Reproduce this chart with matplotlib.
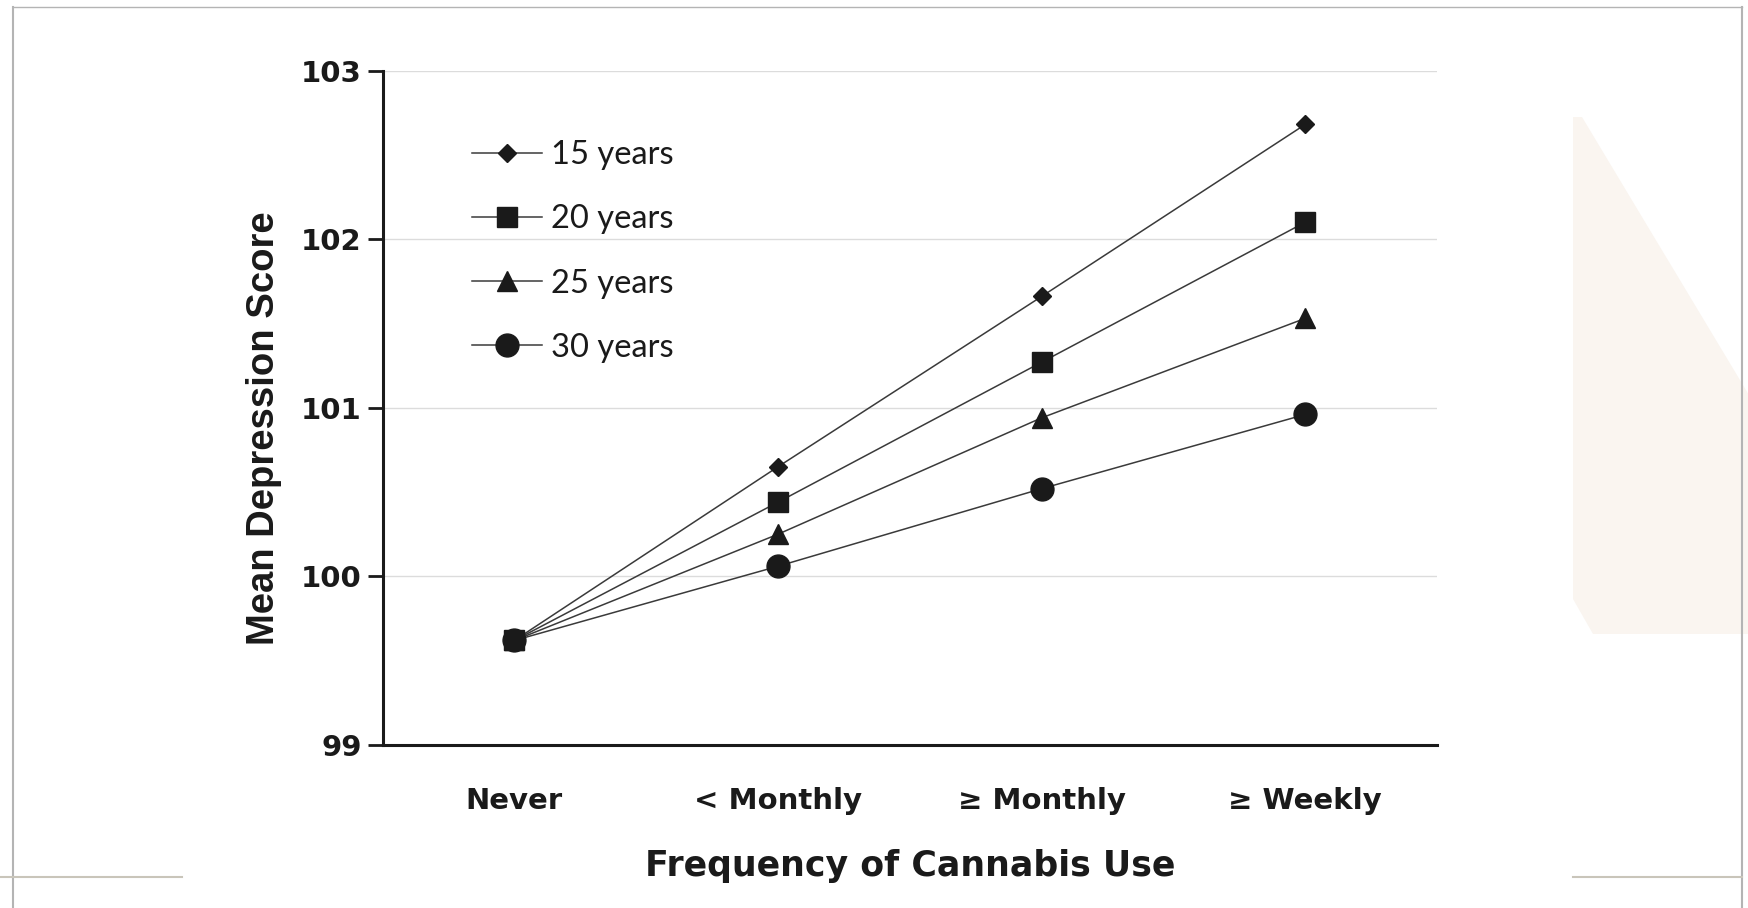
import matplotlib
matplotlib.use("Agg")
import matplotlib.pyplot as plt
from matplotlib.lines import Line2D
from matplotlib.patches import Polygon

# data
categories = ["Never", "< Monthly", "\u2265 Monthly", "\u2265 Weekly"]
ages = ["15 years", "20 years", "25 years", "30 years"]
score_15 = [99.62, 100.65, 101.66, 102.68]
score_20 = [99.62, 100.44, 101.27, 102.10]
score_25 = [99.62, 100.25, 100.94, 101.53]
score_30 = [99.62, 100.06, 100.52, 100.96]
y_ticks = [99, 100, 101, 102, 103]

series = [score_15, score_20, score_25, score_30]
markers = ["D", "s", "^", "o"]
sizes = [9.5, 14, 14.5, 16.5]

bold_font = ["DejaVu Sans"]
tall_font = ["Liberation Sans", "DejaVu Sans"]


def main():
    fig = plt.figure(figsize=(17.49, 9.08), dpi=100)
    fig.patch.set_facecolor("white")

    # faint page decoration on the right and slide frame lines
    fig.add_artist(Polygon([(1573 / 1749, 1 - 117 / 908), (1582 / 1749, 1 - 117 / 908),
                            (1.0, 1 - 395 / 908), (1.0, 1 - 634 / 908),
                            (1593 / 1749, 1 - 634 / 908), (1573 / 1749, 1 - 599 / 908)],
                           closed=True, transform=fig.transFigure,
                           facecolor="#faf5f0", edgecolor="none", zorder=0))
    fig.add_artist(Line2D([13 / 1749, 13 / 1749], [0, 1 - 7 / 908], transform=fig.transFigure,
                          color="#b4b4b4", lw=1.5))
    fig.add_artist(Line2D([1742 / 1749, 1742 / 1749], [0, 1 - 7 / 908], transform=fig.transFigure,
                          color="#b4b4b4", lw=1.5))
    fig.add_artist(Line2D([13 / 1749, 1742 / 1749], [1 - 7 / 908, 1 - 7 / 908],
                          transform=fig.transFigure, color="#b4b4b4", lw=1.0))
    fig.add_artist(Line2D([0, 182 / 1749], [1 - 877 / 908, 1 - 877 / 908],
                          transform=fig.transFigure, color="#c9c5ba", lw=1.5))
    fig.add_artist(Line2D([1573 / 1749, 1742 / 1749], [1 - 877 / 908, 1 - 877 / 908],
                          transform=fig.transFigure, color="#c9c5ba", lw=1.5))

    ax = fig.add_axes([382.6 / 1749, 163 / 908, (1437 - 382.6) / 1749, (745 - 70.5) / 908])
    ax.set_facecolor("none")
    x = list(range(len(categories)))

    for vals, label, m, ms in zip(series, ages, markers, sizes):
        ax.plot(x, vals, color="#3a3a3a", lw=1.1, marker=m, markersize=ms,
                markerfacecolor="#1a1a1a", markeredgecolor="#1a1a1a", label=label, zorder=3)

    ax.set_xlim(-0.5, 3.5)
    ax.set_ylim(99, 103)
    ax.set_yticks(y_ticks)
    ax.set_xticks(x)
    ax.set_xticklabels(categories, family=bold_font, fontweight="bold", fontsize=21)
    ax.set_yticklabels([str(v) for v in y_ticks], family=bold_font, fontweight="bold", fontsize=21)
    ax.tick_params(axis="x", length=0, pad=30, colors="#1a1a1a")
    ax.tick_params(axis="y", length=11, width=2, pad=4, colors="#1a1a1a")

    for yv in y_ticks[1:]:
        ax.axhline(yv, color="#dcdcdc", lw=1.0, zorder=1)

    for side in ["top", "right"]:
        ax.spines[side].set_visible(False)
    for side in ["left", "bottom"]:
        ax.spines[side].set_linewidth(2.2)
        ax.spines[side].set_color("#1a1a1a")

    ax.set_ylabel("Mean Depression Score", family=tall_font, fontweight="bold",
                  fontsize=27.5, color="#1a1a1a")
    ax.yaxis.set_label_coords(-0.0954, 0.469)
    ax.set_xlabel("Frequency of Cannabis Use", family=bold_font, fontweight="bold",
                  fontsize=25, labelpad=25, color="#1a1a1a")

    leg = ax.legend(loc="upper left", bbox_to_anchor=(0.085, 0.897), frameon=False,
                    prop={"family": "Lato", "size": 23.5}, handlelength=2.15,
                    handletextpad=0.25, labelspacing=1.05, borderpad=0, borderaxespad=0)
    for t in leg.get_texts():
        t.set_color("#1a1a1a")

    fig.savefig("out.png", dpi=100)


if __name__ == "__main__":
    main()
